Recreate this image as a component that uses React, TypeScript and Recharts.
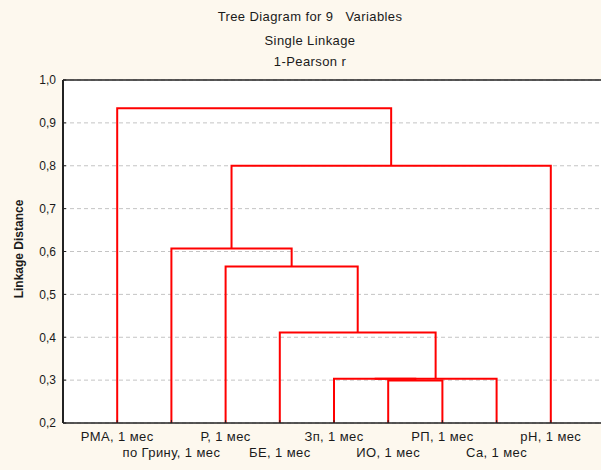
import React from 'react';
import { LineChart, Line, XAxis, YAxis, CartesianGrid } from 'recharts';

// leaves in dendrogram order
const leafLabels = [
  'РМА, 1 мес',
  'по Грину, 1 мес',
  'Р, 1 мес',
  'БЕ, 1 мес',
  'Зп, 1 мес',
  'ИО, 1 мес',
  'РП, 1 мес',
  'Са, 1 мес',
  'pH, 1 мес',
];
const leafPositions = [1, 2, 3, 4, 5, 6, 7, 8, 9];

// merges: ids 0..8 are leaves, merge i gets id 9 + i
const mergeLeft = [5, 4, 10, 3, 2, 1, 14, 0];
const mergeRight = [6, 9, 7, 11, 12, 13, 8, 15];
const mergeHeights = [0.299, 0.303, 0.303, 0.411, 0.565, 0.607, 0.8, 0.934];

const yTicks = [0.2, 0.3, 0.4, 0.5, 0.6, 0.7, 0.8, 0.9, 1.0];
const BASE = 0.2;

const FONT = '"Liberation Sans", Arial, sans-serif';
const TEXT = '#1a1a1a';

// build the U-shaped link for each merge
const nodeX: number[] = [...leafPositions];
const nodeH: number[] = leafPositions.map(() => BASE);
const links = mergeHeights.map((h, i) => {
  const a = mergeLeft[i];
  const b = mergeRight[i];
  const pts = [
    { x: nodeX[a], y: nodeH[a] },
    { x: nodeX[a], y: h },
    { x: nodeX[b], y: h },
    { x: nodeX[b], y: nodeH[b] },
  ];
  nodeX.push((nodeX[a] + nodeX[b]) / 2);
  nodeH.push(h);
  return pts;
});

const LeafTick = (props: any) => {
  const { x, y, payload } = props;
  const i = payload.value - 1;
  return (
    <text
      x={x}
      y={y + (i % 2 ? 29 : 13)}
      textAnchor="middle"
      fontSize={13}
      letterSpacing={0.4}
      fill={TEXT}
      fontFamily={FONT}
    >
      {leafLabels[i]}
    </text>
  );
};

const titleStyle: React.CSSProperties = {
  position: 'absolute',
  left: 0,
  width: 620,
  textAlign: 'center',
  fontSize: 13,
  letterSpacing: 0.4,
  lineHeight: '16px',
};

export default function App() {
  return (
    <div
      style={{
        position: 'fixed',
        left: 0,
        top: 0,
        width: 601,
        height: 470,
        overflow: 'hidden',
        background: '#fdf8ee',
        fontFamily: FONT,
        color: TEXT,
      }}
    >
      <div style={{ ...titleStyle, top: 9 }}>Tree Diagram for 9&nbsp;&nbsp;&nbsp;Variables</div>
      <div style={{ ...titleStyle, top: 33 }}>Single Linkage</div>
      <div style={{ ...titleStyle, top: 54 }}>1-Pearson r</div>
      <div
        style={{
          position: 'absolute',
          left: 19,
          top: 249,
          transform: 'translate(-50%, -50%) rotate(-90deg)',
          whiteSpace: 'nowrap',
          fontSize: 12,
          fontWeight: 'bold',
          lineHeight: '14px',
        }}
      >
        Linkage Distance
      </div>
      <LineChart
        width={610}
        height={470}
        margin={{ top: 60, right: 5, left: 0, bottom: 7 }}
      >
        <CartesianGrid
          vertical={false}
          stroke="#c4c4c4"
          strokeDasharray="4 3"
          fill="#ffffff"
        />
        <XAxis
          type="number"
          dataKey="x"
          domain={[0, 10]}
          ticks={leafPositions}
          height={40}
          tickSize={-3}
          tickMargin={8}
          tick={<LeafTick />}
          axisLine={{ stroke: '#222', strokeWidth: 1.5 }}
          tickLine={{ stroke: '#222' }}
        />
        <XAxis
          xAxisId="top"
          orientation="top"
          type="number"
          dataKey="x"
          domain={[0, 10]}
          ticks={leafPositions}
          height={20}
          tickSize={-3}
          tick={false}
          axisLine={{ stroke: '#222', strokeWidth: 1.5 }}
          tickLine={{ stroke: '#222' }}
        />
        <YAxis
          type="number"
          domain={[0.2, 1.0]}
          ticks={yTicks}
          width={63}
          tickSize={-3}
          tickMargin={10}
          tickFormatter={(v: number) => v.toFixed(1).replace('.', ',')}
          tick={{ fontSize: 12, fill: TEXT, fontFamily: FONT }}
          axisLine={{ stroke: '#222', strokeWidth: 2 }}
          tickLine={{ stroke: '#222' }}
        />
        {links.map((pts, i) => (
          <Line
            key={i}
            data={pts}
            dataKey="y"
            type="linear"
            stroke="#ff0000"
            strokeWidth={2}
            dot={false}
            activeDot={false}
            isAnimationActive={false}
          />
        ))}
      </LineChart>
    </div>
  );
}
